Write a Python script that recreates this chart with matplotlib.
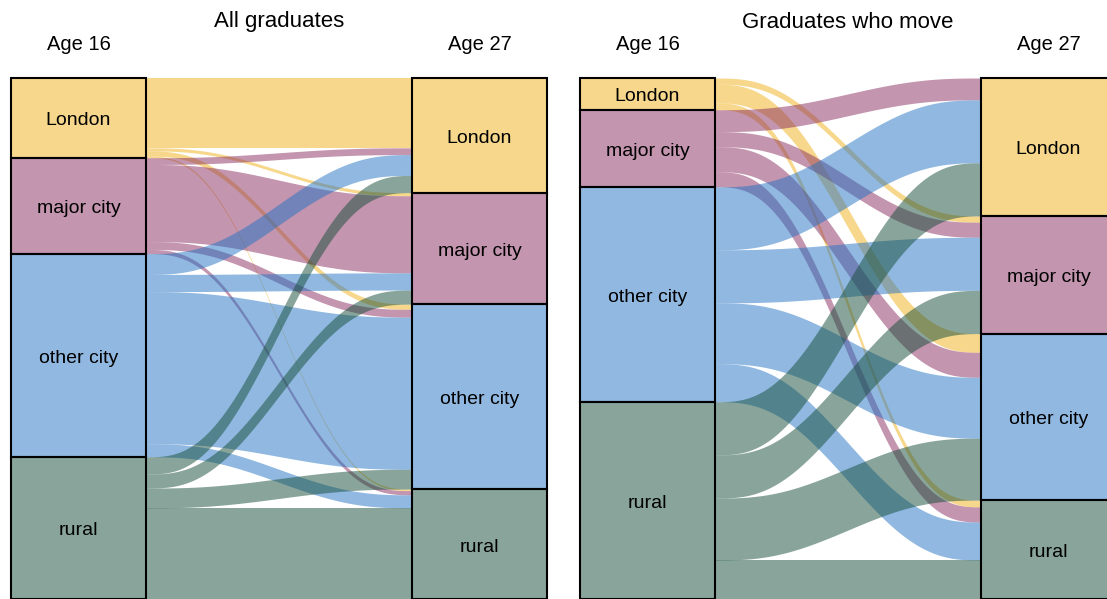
import numpy as np
import matplotlib.pyplot as plt
from matplotlib.patches import Rectangle
from matplotlib.colors import to_rgba

# categories (same at age 16 and age 27)
categories = ["London", "major city", "other city", "rural"]
colors = ["#EFB119", "#892D61", "#2373C3", "#154D39"]

# share of graduates (%) moving from row (age 16) to column (age 27)
all_london = [13.4, 0.6, 1.0, 0.3]
all_major = [1.3, 14.8, 1.5, 0.8]
all_other = [4.0, 3.3, 29.2, 2.5]
all_rural = [3.3, 2.7, 3.8, 17.5]

move_london = [0.0, 1.2, 3.6, 1.3]
move_major = [4.2, 2.9, 4.8, 2.9]
move_other = [12.1, 10.2, 11.7, 7.3]
move_rural = [10.2, 8.3, 11.9, 7.5]

titles = ["All graduates", "Graduates who move"]
col_labels = ["Age 16", "Age 27"]

ALPHA = 0.5
TOP, HEIGHT = 78, 521       # pixels
NODE_W, GAP = 135, 266


def curve(t):
    return 6 * t**5 - 15 * t**4 + 10 * t**3


def draw_panel(ax, flows, x0, title):
    flows = np.array(flows, dtype=float)
    scale = HEIGHT / flows.sum()
    src = flows.sum(axis=1) * scale
    tgt = flows.sum(axis=0) * scale
    src_top = TOP + np.concatenate([[0], np.cumsum(src)[:-1]])
    tgt_top = TOP + np.concatenate([[0], np.cumsum(tgt)[:-1]])
    xa = x0 + NODE_W
    xb = xa + GAP

    # where each flow sits inside its source / target node
    src_off = src_top.copy()
    tgt_off = tgt_top.copy()
    segs = {}
    for i in range(4):
        for j in range(4):
            h = flows[i, j] * scale
            segs[(i, j)] = [src_off[i], src_off[i] + h, 0, 0]
            src_off[i] += h
    for j in range(4):
        for i in range(4):
            h = flows[i, j] * scale
            segs[(i, j)][2] = tgt_off[j]
            segs[(i, j)][3] = tgt_off[j] + h
            tgt_off[j] += h

    t = np.linspace(0, 1, 200)
    s = curve(t)
    x = xa + (xb - xa) * t
    for i in range(4):
        for j in range(4):
            if flows[i, j] <= 0:
                continue
            sy0, sy1, ty0, ty1 = segs[(i, j)]
            up = sy0 + (ty0 - sy0) * s
            lo = sy1 + (ty1 - sy1) * s
            ax.fill_between(x, up, lo, color=colors[i], alpha=ALPHA, lw=0, zorder=1)

    for k in range(4):
        for xx, top, h in [(x0, src_top[k], src[k]), (xb, tgt_top[k], tgt[k])]:
            ax.add_patch(Rectangle((xx, top), NODE_W, h, facecolor=to_rgba(colors[k], ALPHA),
                                   edgecolor="black", lw=1.5, zorder=3))
            ax.text(xx + NODE_W / 2, top + h / 2 + 3, categories[k], ha="center",
                    va="center", fontsize=14, zorder=4)

    ax.text(x0 + NODE_W / 2, 45, col_labels[0], ha="center", va="center", fontsize=14.5)
    ax.text(xb + NODE_W / 2, 45, col_labels[1], ha="center", va="center", fontsize=14.5)
    ax.text((x0 + xb + NODE_W) / 2, 22, title, ha="center", va="center", fontsize=16)


plt.rcParams["font.family"] = ["Liberation Sans", "DejaVu Sans"]
fig = plt.figure(figsize=(11.07, 5.99), dpi=100)
ax = fig.add_axes([0, 0, 1, 1])
ax.set_xlim(0, 1107)
ax.set_ylim(599, 0)
ax.axis("off")

draw_panel(ax, [all_london, all_major, all_other, all_rural], 11, titles[0])
draw_panel(ax, [move_london, move_major, move_other, move_rural], 580, titles[1])

fig.savefig("out.png", dpi=100)
